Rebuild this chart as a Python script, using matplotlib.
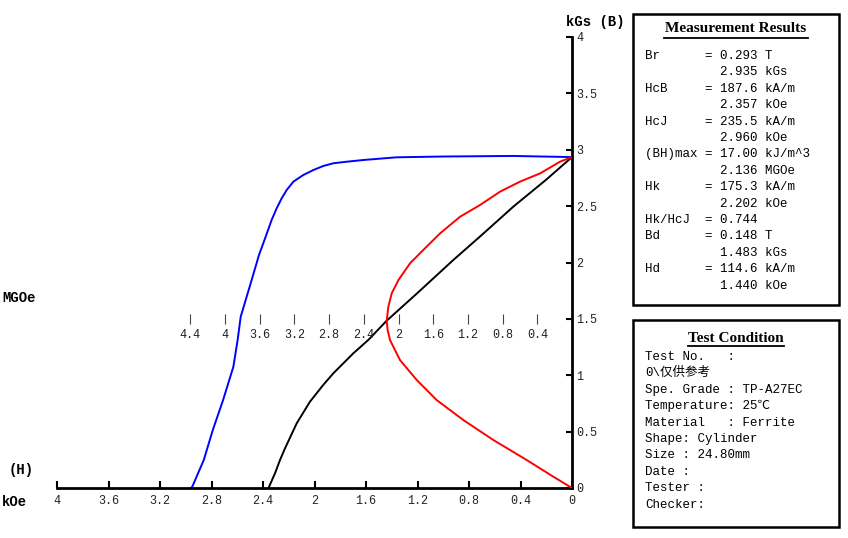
import matplotlib
matplotlib.use('Agg')
import matplotlib.pyplot as plt
from matplotlib.patches import Rectangle
from matplotlib.lines import Line2D

# demagnetization curve B(H), kOe / kGs
black_h = [0, 0.2, 0.456, 0.7, 0.922, 1.2, 1.44, 1.582, 1.699, 1.776, 1.854,
           1.932, 2.035, 2.138, 2.229, 2.268, 2.307, 2.357]
black_b = [2.935, 2.735, 2.495, 2.245, 2.022, 1.73, 1.483, 1.313, 1.194, 1.106,
           1.017, 0.914, 0.766, 0.574, 0.352, 0.248, 0.130, 0.0]

# intrinsic curve J(H)
blue_h = [0, 0.46, 1.0, 1.362, 1.621, 1.75, 1.854, 1.932, 2.009, 2.087, 2.164,
          2.216, 2.255, 2.294, 2.333, 2.384, 2.431, 2.488, 2.573, 2.597, 2.63,
          2.71, 2.79, 2.86, 2.95, 2.96]
blue_b = [2.935, 2.945, 2.94, 2.933, 2.909, 2.894, 2.88, 2.856, 2.82, 2.776,
          2.717, 2.643, 2.569, 2.48, 2.377, 2.214, 2.067, 1.845, 1.52, 1.313,
          1.076, 0.78, 0.514, 0.248, 0.01, 0]

# energy product curve, BH (MGOe) vs B
red_bh = [0, 0.138, 0.369, 0.60, 0.83, 1.06, 1.29, 1.52, 1.714, 1.867, 2.0,
          2.078, 2.117, 2.136, 2.125, 2.098, 1.983, 1.79, 1.56, 1.253, 0.907,
          0.522, 0.215, 0]
red_b = [2.935, 2.894, 2.79, 2.717, 2.628, 2.51, 2.406, 2.259, 2.111, 1.993,
         1.845, 1.727, 1.608, 1.483, 1.40, 1.313, 1.135, 0.958, 0.78, 0.603,
         0.426, 0.248, 0.1, 0]

h_ticks = [4, 3.6, 3.2, 2.8, 2.4, 2, 1.6, 1.2, 0.8, 0.4, 0]
b_ticks = [0, 0.5, 1, 1.5, 2, 2.5, 3, 3.5, 4]
bh_ticks = [4.4, 4, 3.6, 3.2, 2.8, 2.4, 2, 1.6, 1.2, 0.8, 0.4]

results = ["Br      = 0.293 T", "          2.935 kGs",
           "HcB     = 187.6 kA/m", "          2.357 kOe",
           "HcJ     = 235.5 kA/m", "          2.960 kOe",
           "(BH)max = 17.00 kJ/m^3", "          2.136 MGOe",
           "Hk      = 175.3 kA/m", "          2.202 kOe",
           "Hk/HcJ  = 0.744",
           "Bd      = 0.148 T", "          1.483 kGs",
           "Hd      = 114.6 kA/m", "          1.440 kOe"]
conditions = ["Test No.   :", "0\\仅供参考", "Spe. Grade : TP-A27EC",
              "Temperature: 25℃", "Material   : Ferrite", "Shape: Cylinder",
              "Size : 24.80mm", "Date :", "Tester :", "Checker:"]

W, H = 848, 538
fig = plt.figure(figsize=(W / 100, H / 100), dpi=100)

def fx(px):
    return px / W

def fy(py):
    return 1 - py / H

mono = ['Liberation Mono', 'DejaVu Sans Mono', 'Noto Sans CJK SC']
tick_font = dict(family='Liberation Mono', size=8.5, color='#222222')

rect = [fx(57), fy(488), fx(572) - fx(57), fy(37) - fy(488)]
ax = fig.add_axes(rect)
ax.set_xlim(4, 0)
ax.set_ylim(0, 4)
ax.plot(blue_h, blue_b, color='#0000ff', lw=1.4)
ax.plot(black_h, black_b, color='black', lw=1.4)
for s in ['top', 'left']:
    ax.spines[s].set_visible(False)
for s in ['right', 'bottom']:
    ax.spines[s].set_linewidth(2)
ax.set_xticks(h_ticks)
ax.set_xticklabels([f'{v:g}' for v in h_ticks], fontdict=tick_font)
ax.set_yticks(b_ticks)
ax.set_yticklabels([f'{v:g}' for v in b_ticks], fontdict=tick_font)
ax.yaxis.tick_right()
ax.tick_params(axis='x', direction='in', length=5, width=1.5, pad=5)
ax.tick_params(axis='y', direction='in', length=4, width=1.5, pad=3)

# energy product axis, scale 86.75 px per MGOe, zero at the B axis
ax2 = fig.add_axes(rect)
ax2.patch.set_visible(False)
ax2.set_xlim(515 / 86.75, 0)
ax2.set_ylim(0, 4)
ax2.plot(red_bh, red_b, color='#ff0000', lw=1.4)
for s in ['top', 'left', 'right']:
    ax2.spines[s].set_visible(False)
ax2.spines['bottom'].set_position(('data', 1.5))
ax2.spines['bottom'].set_color('none')
ax2.set_yticks([])
ax2.set_xticks(bh_ticks)
ax2.set_xticklabels([f'{v:g}' for v in bh_ticks], fontdict=tick_font)
ax2.tick_params(axis='x', direction='inout', length=7, width=0.8,
                color='#444444', pad=4)

lab = dict(family='Liberation Mono', weight='bold', size=10)
fig.text(fx(566), fy(22), 'kGs (B)', va='center', ha='left', **lab)
fig.text(fx(9), fy(470), '(H)', va='center', ha='left', **lab)
fig.text(fx(2), fy(502), 'kOe', va='center', ha='left', **lab)
fig.text(fx(2), fy(298), 'MGOe', va='center', ha='left', **lab)

# result boxes
for (x0, y0, x1, y1) in [(633, 14, 839, 305), (633, 320, 839, 527)]:
    fig.add_artist(Rectangle((fx(x0), fy(y1)), fx(x1) - fx(x0), fy(y0) - fy(y1),
                             transform=fig.transFigure, fill=False,
                             edgecolor='black', lw=1.8))

title = dict(family='Liberation Serif', weight='bold', size=11)
fig.text(fx(736), fy(29), 'Measurement Results', ha='center', va='center', **title)
fig.add_artist(Line2D([fx(664), fx(808)], [fy(37.5), fy(37.5)],
                      transform=fig.transFigure, color='black', lw=1.3))
fig.text(fx(736), fy(338), 'Test Condition', ha='center', va='center', **title)
fig.add_artist(Line2D([fx(688), fx(784)], [fy(346), fy(346)],
                      transform=fig.transFigure, color='black', lw=1.3))

for i, line in enumerate(results):
    fig.text(fx(645), fy(56 + i * 16.4), line, ha='left', va='center',
             family=mono, size=9)
for i, line in enumerate(conditions):
    fig.text(fx(645), fy(357 + i * 16.4), line, ha='left', va='center',
             family=mono, size=9)

fig.savefig('out.png', dpi=100)
